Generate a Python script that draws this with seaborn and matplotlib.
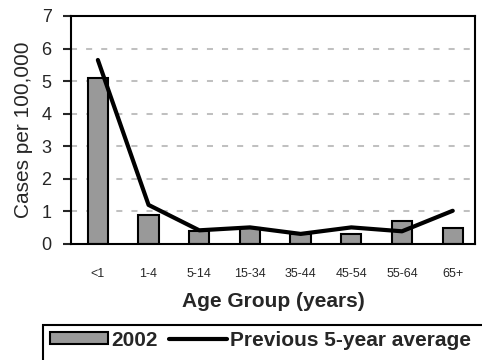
import pandas as pd
import matplotlib
matplotlib.use("Agg")
import matplotlib.pyplot as plt
from matplotlib.patches import Rectangle
import seaborn as sns

# Données
age_groups = ["<1", "1-4", "5-14", "15-34", "35-44", "45-54", "55-64", "65+"]
cases_2002 = [5.1, 0.9, 0.4, 0.5, 0.3, 0.3, 0.7, 0.5]
prev_5yr_avg = [5.65, 1.2, 0.42, 0.51, 0.31, 0.51, 0.39, 1.02]
y_ticks = [0, 1, 2, 3, 4, 5, 6, 7]

sns.set_style("white")
plt.rcParams["font.family"] = ["Liberation Sans", "DejaVu Sans"]

df = pd.DataFrame({"age": age_groups, "cases": cases_2002, "avg": prev_5yr_avg})

fig = plt.figure(figsize=(4.82, 3.6), dpi=100)
ax = fig.add_axes([71 / 482, 1 - 244 / 360, 404 / 482, 228 / 360])

# Grille pointillée
for v in y_ticks[1:-1]:
    ax.axhline(v, color="#c0c0c0", lw=1.45, linestyle=(0, (3, 4.5)), zorder=0)

sns.barplot(data=df, x="age", y="cases", color="#999999", saturation=1,
            width=0.4, edgecolor="black", linewidth=1.5, ax=ax, zorder=2,
            label="2002")
sns.lineplot(data=df, x="age", y="avg", color="black", lw=3, sort=False,
             ax=ax, zorder=3, label="Previous 5-year average")

ax.set_xlim(-0.53, 7.44)
ax.set_ylim(0, 7)
ax.set_yticks(y_ticks)
ax.tick_params(axis="y", length=6, width=1.5, pad=8, labelsize=13, left=True)
ax.tick_params(axis="x", length=0, pad=17, labelsize=9)

for s in ax.spines.values():
    s.set_color("black")
    s.set_linewidth(1.5)

ax.set_ylabel("Cases per 100,000", fontsize=15, labelpad=6)
ax.set_xlabel("Age Group (years)", fontsize=15, fontweight="bold", labelpad=9)

# Légende en bas, cadre coupé par le bord de la figure
handles, labels = ax.get_legend_handles_labels()
ax.get_legend().remove()
order = [labels.index("2002"), labels.index("Previous 5-year average")]
fig.legend([handles[i] for i in order], [labels[i] for i in order],
           loc="center left", ncol=2, frameon=False,
           bbox_to_anchor=(50 / 482, 1 - 340 / 360),
           prop={"size": 15, "weight": "bold"},
           handlelength=2.8, handleheight=0.5, handletextpad=0.12,
           columnspacing=0.55, borderpad=0, borderaxespad=0)
fig.add_artist(Rectangle((43 / 482, -0.2), 1, (0.2 + 1 - 325 / 360),
                         transform=fig.transFigure, fill=False,
                         edgecolor="black", lw=1.5))

fig.savefig("out.png", dpi=100)
